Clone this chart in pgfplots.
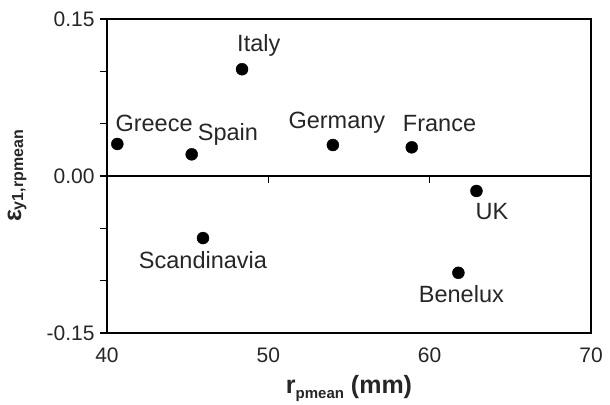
\documentclass[border=0pt]{standalone}
\usepackage{fontspec}
\setmainfont{Liberation Sans}
\usepackage{pgfplots}
\pgfplotsset{compat=1.18}
\begin{document}
\begin{tikzpicture}
\path[use as bounding box] (0,0) rectangle (610pt,404pt);
\begin{axis}[
  at={(107pt,71pt)}, anchor=south west,
  scale only axis, width=484pt, height=314pt,
  xmin=40, xmax=70, ymin=-0.15, ymax=0.15,
  axis line style={line width=1.2pt},
  xtick={40,50,60,70}, major x tick style={draw=none},
  ytick={-0.15,-0.1,-0.05,0,0.05,0.1,0.15},
  yticklabels={-0.15,,,0.00,,,0.15},
  ytick pos=left, xtick pos=bottom,
  tick align=outside, major tick length=7pt,
  y tick style={line width=1.1pt, black},
  /pgf/number format/assume math mode=true,
  tick label style={font=\fontsize{21}{25}\selectfont, text=black!85},
  xticklabel style={yshift=-4pt},
  yticklabel style={xshift=-2pt},
  xlabel={{\fontsize{25}{30}\selectfont\bfseries r\raisebox{-5pt}{\fontsize{15}{18}\selectfont pmean} (mm)}},
  ylabel={{\fontsize{25}{30}\selectfont\bfseries ε\raisebox{-2pt}{\fontsize{16}{19}\selectfont y1,rpmean}}},
  xlabel style={at={(axis description cs:0.5,-0.178)}, anchor=center, text=black!85},
  ylabel style={at={(axis description cs:-0.186,0.5)}, anchor=center, text=black!85},
  clip=false,
]
\addplot[black, line width=1.2pt, forget plot] coordinates {(40,0) (70,0)};
\draw[line width=1.1pt] (axis cs:50,0) -- ++(0pt,-7pt);
\draw[line width=1.1pt] (axis cs:60,0) -- ++(0pt,-7pt);
\draw[line width=1.1pt] (axis cs:70,0) -- ++(0pt,-7pt);
\addplot[only marks, mark=*, mark size=6pt, black] coordinates {
  (40.64,0.0306) (45.25,0.0207) (48.37,0.102) (54.0,0.0296)
  (58.89,0.0274) (62.9,-0.0143) (61.78,-0.0925) (45.95,-0.0593)
};
\begin{scope}[every node/.style={font=\fontsize{23.5}{28}\selectfont, text=black!85, inner sep=0pt}]
\node[anchor=west] at ([xshift=-2pt,yshift=21pt]axis cs:40.64,0.0306) {Greece};
\node[anchor=west] at ([xshift=6pt,yshift=20pt]axis cs:45.25,0.0207) {Spain};
\node[anchor=west] at ([xshift=-5pt,yshift=24pt]axis cs:48.37,0.102) {Italy};
\node[anchor=center] at ([xshift=4pt,yshift=22pt]axis cs:54.0,0.0296) {Germany};
\node[anchor=west] at ([xshift=-9pt,yshift=24pt]axis cs:58.89,0.0274) {France};
\node[anchor=west] at ([xshift=-1pt,yshift=-21pt]axis cs:62.9,-0.0143) {UK};
\node[anchor=center] at ([xshift=3pt,yshift=-21pt]axis cs:61.78,-0.0925) {Benelux};
\node[anchor=center] at ([xshift=0pt,yshift=-22pt]axis cs:45.95,-0.0593) {Scandinavia};
\end{scope}
\end{axis}
\end{tikzpicture}
\end{document}
